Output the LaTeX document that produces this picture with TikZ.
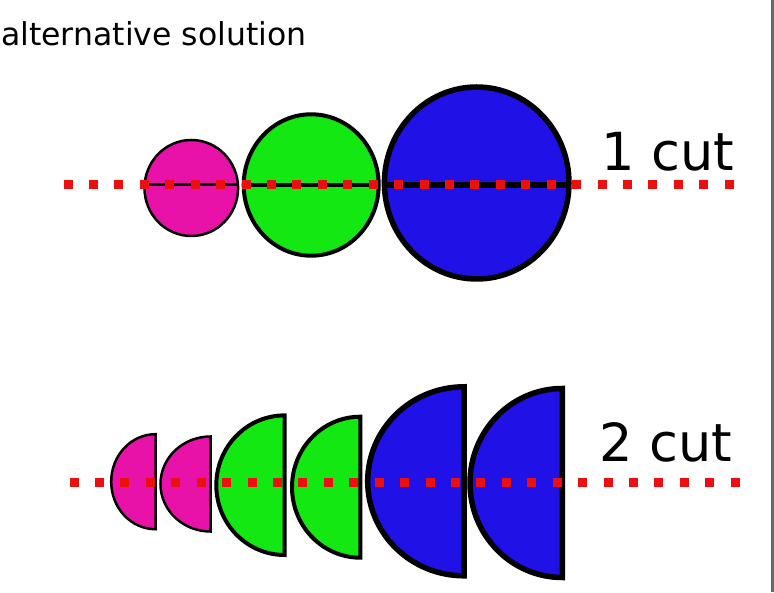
\documentclass[tikz,border=0pt]{standalone}
\usepackage{fontspec}
\setmainfont{DejaVu Sans}
\definecolor{cmag}{RGB}{233,18,169}
\definecolor{cgrn}{RGB}{20,232,19}
\definecolor{cblu}{RGB}{32,17,230}
\definecolor{cred}{RGB}{235,15,15}
\definecolor{cgry}{RGB}{105,105,105}
\begin{document}
\begin{tikzpicture}[x=1pt,y=1pt,
  redline/.style={cred,line width=9pt,dash pattern=on 9pt off 16.43pt},
  smallc/.style={draw=black,line width=2.5pt},
  midc/.style={draw=black,line width=4pt},
  bigc/.style={draw=black,line width=5.5pt},
  lbl/.style={anchor=base west,inner sep=0pt,font=\fontsize{52.5}{60}\selectfont}]
\useasboundingbox (0,0) rectangle (774,592);
\fill[white] (0,0) rectangle (774,592);
\draw[cgry,line width=3pt] (772.5,0) -- (772.5,592);
\node[anchor=base west,inner sep=0pt,font=\fontsize{31.5}{38}\selectfont] (title) at (1,546.3) {alternative solution};
% top row
\draw[smallc,fill=cmag] (191.3,404) ellipse[x radius=46.8,y radius=48];
\draw[midc,fill=cgrn] (311.2,407) ellipse[x radius=67.5,y radius=70.7];
\draw[bigc,fill=cblu] (476.7,409) ellipse[x radius=92.3,y radius=96];
\draw[black,line width=3pt] (144.5,407) -- (238.1,407);
\draw[black,line width=4.5pt] (243.7,407) -- (378.7,407);
\draw[black,line width=5.5pt] (384.4,407) -- (569,407);
\draw[redline] (63.5,407) -- (733.5,407);
\node[lbl] (cut1) at (601.5,421.3) {1 cut};
% bottom row
\draw[smallc,fill=cmag] (155.5,157.8) arc[start angle=90,end angle=270,x radius=44.3,y radius=47.5] -- cycle;
\draw[smallc,fill=cmag] (210.5,155.5) arc[start angle=90,end angle=270,x radius=50,y radius=47.5] -- cycle;
\draw[midc,fill=cgrn] (284.7,176.6) arc[start angle=90,end angle=270,x radius=68.4,y radius=69.8] -- cycle;
\draw[midc,fill=cgrn] (360.3,175.3) arc[start angle=90,end angle=270,x radius=68.3,y radius=70.5] -- cycle;
\draw[bigc,fill=cblu] (464,205.2) arc[start angle=90,end angle=270,x radius=96.3,y radius=94.5] -- cycle;
\draw[bigc,fill=cblu] (562.3,203.5) arc[start angle=90,end angle=270,x radius=92.3,y radius=94.5] -- cycle;
\draw[redline] (69.5,109.5) -- (739.8,109.5);
\node[lbl] (cut2) at (599.5,130.3) {2 cut};
\end{tikzpicture}
\end{document}
